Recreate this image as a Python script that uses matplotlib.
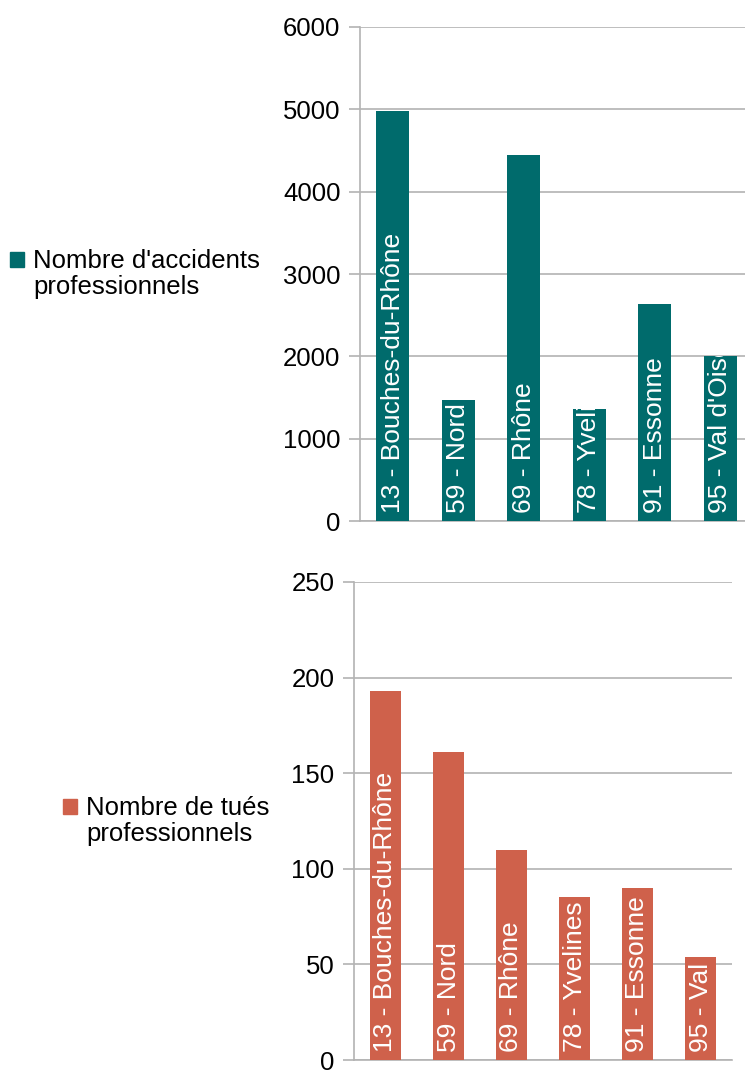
import matplotlib
matplotlib.use("Agg")
import matplotlib.pyplot as plt
from matplotlib.patches import Patch

plt.rcParams['font.family'] = ['Liberation Sans', 'DejaVu Sans']
plt.rcParams['font.size'] = 18.5

# donnees
departements_acc = ["13 - Bouches-du-Rhône", "59 - Nord", "69 - Rhône",
                    "78 - Yvelines", "91 - Essonne", "95 - Val d'Oise"]
accidents = [4980, 1470, 4450, 1360, 2630, 2000]

departements_tues = ["13 - Bouches-du-Rhône", "59 - Nord", "69 - Rhône",
                     "78 - Yvelines", "91 - Essonne", "95 - Val d'Oise"]
tues = [193, 161, 110, 85, 90, 54]

yticks_acc = [0, 1000, 2000, 3000, 4000, 5000, 6000]
yticks_tues = [0, 50, 100, 150, 200, 250]

col_acc = '#006b6c'
col_tues = '#cf614b'
gris = '#b3b3b3'

fig = plt.figure(figsize=(7.45, 10.7), dpi=100)

ax1 = fig.add_axes([360/745, 1-521/1070, 393/745, 494/1070])
ax2 = fig.add_axes([354/745, 1-1060/1070, 378/745, 478/1070])


def graf(ax, noms, valeurs, ticks, couleur, legende, legx):
    x = list(range(len(valeurs)))
    barres = ax.bar(x, valeurs, width=0.5, color=couleur, zorder=3)
    for xi, nom, b in zip(x, noms, barres):
        t = ax.annotate(nom, xy=(xi, 0), xytext=(0, 6), textcoords='offset points',
                        rotation=90, ha='center', va='bottom', color='white',
                        fontsize=19, zorder=4)
        t.set_clip_path(b)
    ax.set_xlim(-0.5, len(valeurs) - 0.5)
    ax.set_ylim(ticks[0], ticks[-1])
    ax.set_yticks(ticks)
    ax.set_xticks([])
    ax.grid(axis='y', color=gris, linewidth=1.2, zorder=0)
    for s in ['top', 'right']:
        ax.spines[s].set_visible(False)
    for s in ['left', 'bottom']:
        ax.spines[s].set_color(gris)
        ax.spines[s].set_linewidth(1.2)
    ax.tick_params(axis='y', length=8, width=1.2, color=gris, pad=6, labelsize=18.5)
    # legende sur deux lignes, le carre aligne sur la premiere
    h1 = Patch(color=couleur)
    h2 = Patch(color='none')
    lignes = legende.split('\n')
    ax.legend(handles=[h1, h2], labels=lignes, loc='center left',
              bbox_to_anchor=(legx, 0.5), bbox_transform=ax.transAxes,
              frameon=False, handlelength=0.55, handleheight=0.55,
              handletextpad=0.35, borderaxespad=0, borderpad=0,
              fontsize=18.5, labelspacing=0.05)


graf(ax1, departements_acc, accidents, yticks_acc, col_acc,
     "Nombre d'accidents\nprofessionnels", (10 - 360) / 393)
graf(ax2, departements_tues, tues, yticks_tues, col_tues,
     "Nombre de tués\nprofessionnels", (63 - 354) / 378)

fig.savefig('out.png', dpi=100)
